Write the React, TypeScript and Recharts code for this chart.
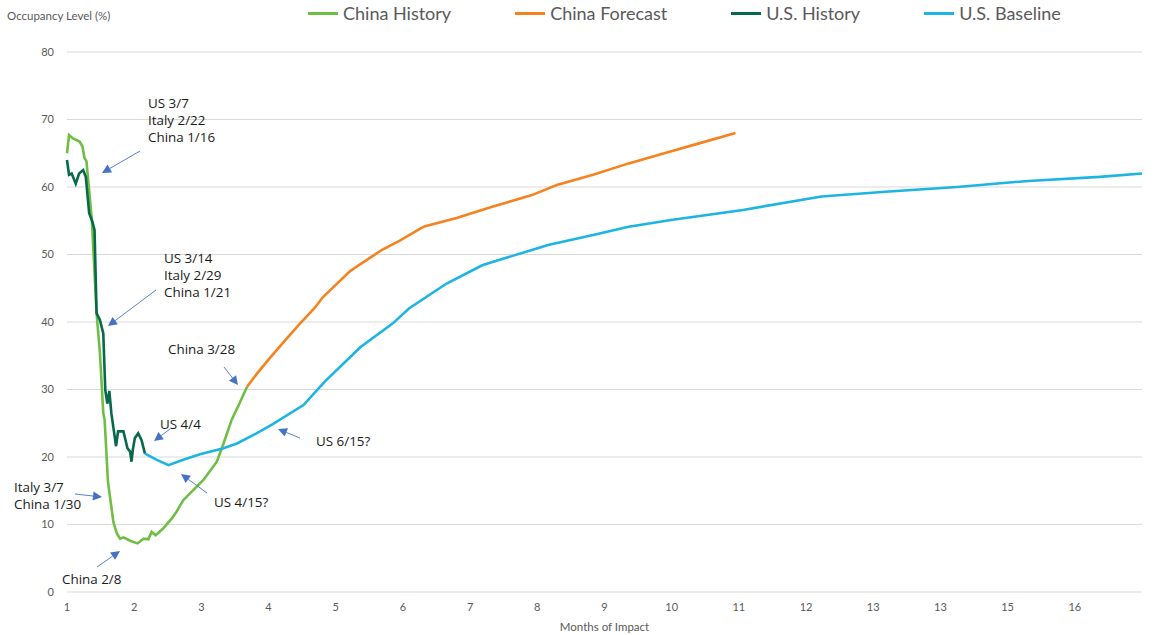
import { LineChart, Line, XAxis, YAxis, CartesianGrid } from "recharts";

// months since start / occupancy %
const chinaHistMonths = [1.0, 1.03, 1.09, 1.19, 1.23, 1.26, 1.29, 1.37, 1.44, 1.49, 1.54, 1.56, 1.61, 1.69, 1.74, 1.79, 1.84, 1.94, 2.05, 2.14, 2.21, 2.26, 2.32, 2.43, 2.56, 2.63, 2.73, 2.83, 3.03, 3.23, 3.33, 3.45, 3.57, 3.68];
const chinaHistValues = [65.0, 67.7, 67.2, 66.7, 66.0, 64.3, 63.8, 55.1, 41.3, 35.4, 26.5, 25.5, 16.3, 10.4, 8.7, 7.9, 8.1, 7.6, 7.2, 7.9, 7.8, 8.9, 8.4, 9.4, 10.9, 11.9, 13.6, 14.6, 16.6, 19.3, 22.0, 25.5, 28.0, 30.4];

const chinaFcstMonths = [3.68, 3.83, 4.04, 4.25, 4.47, 4.68, 4.81, 5.0, 5.21, 5.34, 5.69, 5.96, 6.27, 6.33, 6.8, 7.34, 7.92, 8.29, 8.83, 9.36, 9.89, 10.42, 10.95];
const chinaFcstValues = [30.4, 32.4, 34.9, 37.3, 39.8, 42.0, 43.7, 45.5, 47.5, 48.4, 50.7, 52.1, 53.9, 54.2, 55.4, 57.1, 58.8, 60.3, 61.8, 63.5, 65.0, 66.5, 68.0];

const usHistMonths = [1.0, 1.03, 1.07, 1.13, 1.18, 1.24, 1.28, 1.33, 1.38, 1.41, 1.44, 1.49, 1.54, 1.57, 1.6, 1.63, 1.66, 1.73, 1.76, 1.84, 1.9, 1.94, 1.96, 1.98, 2.01, 2.06, 2.11, 2.16];
const usHistValues = [64.0, 61.8, 62.0, 60.5, 62.0, 62.5, 61.5, 56.1, 54.8, 53.6, 41.3, 40.3, 38.3, 29.9, 27.9, 29.8, 26.5, 21.6, 23.8, 23.8, 21.3, 20.8, 19.3, 21.1, 22.8, 23.5, 22.5, 20.5];

const usBaseMonths = [2.16, 2.33, 2.51, 2.73, 2.98, 3.33, 3.53, 3.82, 4.05, 4.52, 4.84, 5.37, 5.85, 6.09, 6.65, 7.18, 7.5, 8.16, 8.83, 9.36, 9.99, 11.06, 12.23, 13.18, 14.25, 15.31, 16.37, 17.0];
const usBaseValues = [20.5, 19.6, 18.8, 19.6, 20.4, 21.3, 22.0, 23.5, 24.8, 27.7, 31.2, 36.3, 39.8, 42.0, 45.7, 48.4, 49.4, 51.4, 52.9, 54.1, 55.1, 56.6, 58.6, 59.3, 60.0, 60.9, 61.5, 62.0];

const xTicks = [1, 2, 3, 4, 5, 6, 7, 8, 9, 10, 11, 12, 13, 14, 15, 16];
const xTickLabels = ["1", "2", "3", "4", "5", "6", "7", "8", "9", "10", "11", "12", "13", "13", "15", "16"];
const yTicks = [0, 10, 20, 30, 40, 50, 60, 70, 80];

const zip = (ms: number[], vs: number[]) => ms.map((m, i) => ({ m, v: vs[i] }));

const series = [
  { name: "China History", color: "#6fbe44", data: zip(chinaHistMonths, chinaHistValues) },
  { name: "China Forecast", color: "#f5821f", data: zip(chinaFcstMonths, chinaFcstValues) },
  { name: "U.S. History", color: "#07694a", data: zip(usHistMonths, usHistValues) },
  { name: "U.S. Baseline", color: "#1cb4e2", data: zip(usBaseMonths, usBaseValues) },
];

// callout text + arrows (page pixels)
const notes: Array<{ x: number; y: number; lines: string[] }> = [
  { x: 148, y: 103, lines: ["US 3/7", "Italy 2/22", "China 1/16"] },
  { x: 164, y: 258, lines: ["US 3/14", "Italy 2/29", "China 1/21"] },
  { x: 168, y: 349, lines: ["China 3/28"] },
  { x: 160, y: 424, lines: ["US 4/4"] },
  { x: 14, y: 487, lines: ["Italy 3/7", "China 1/30"] },
  { x: 62, y: 579, lines: ["China 2/8"] },
  { x: 214, y: 502, lines: ["US 4/15?"] },
  { x: 316, y: 441, lines: ["US 6/15?"] },
];
const arrows = [
  [140, 151, 102, 173],
  [156, 290, 108, 326],
  [224, 367, 238, 385],
  [170, 429, 154, 441],
  [75, 494, 102, 497],
  [97, 567, 120, 551],
  [207, 493, 181, 474],
  [300, 438, 278, 429],
];

const axisFont = "Lato, 'Open Sans', sans-serif";

function Arrow({ a }: { a: number[] }) {
  const [x1, y1, x2, y2] = a;
  const ang = Math.atan2(y2 - y1, x2 - x1);
  const len = 9, w = 4.5;
  const bx = x2 - len * Math.cos(ang), by = y2 - len * Math.sin(ang);
  const px = -Math.sin(ang) * w, py = Math.cos(ang) * w;
  return (
    <g>
      <line x1={x1} y1={y1} x2={bx} y2={by} stroke="#4472c4" strokeWidth={0.9} />
      <polygon points={`${x2},${y2} ${bx + px},${by + py} ${bx - px},${by - py}`} fill="#4472c4" />
    </g>
  );
}

export default function App() {
  return (
    <div style={{ position: "absolute", left: 0, top: 0, width: 1168, height: 635, background: "#fff", overflow: "hidden" }}>
      <LineChart width={1168} height={635} margin={{ top: 52, right: 26, left: 0, bottom: 0 }}>
        <CartesianGrid vertical={false} stroke="#d9d9d9" strokeWidth={1} />
        <XAxis
          dataKey="m" type="number" domain={[1, 17]} ticks={xTicks}
          tickFormatter={(v) => xTickLabels[xTicks.indexOf(v)] ?? ""}
          axisLine={false} tickLine={false} height={43} tickMargin={5}
          tick={{ fill: "#595959", fontSize: 11, fontFamily: axisFont }}
          label={{ value: "Months of Impact", position: "insideBottom", offset: 4, fill: "#595959", fontSize: 11.5, fontFamily: axisFont }}
          allowDuplicatedCategory={false}
        />
        <YAxis
          type="number" domain={[0, 80]} ticks={yTicks} width={67}
          axisLine={false} tickLine={false} tickMargin={7}
          tick={{ fill: "#595959", fontSize: 11, fontFamily: axisFont }}
        />
        {series.map((s) => (
          <Line
            key={s.name} data={s.data} dataKey="v" name={s.name} type="linear"
            stroke={s.color} strokeWidth={2.6} dot={false} activeDot={false}
            isAnimationActive={false}
          />
        ))}
      </LineChart>

      <svg width={1168} height={635} style={{ position: "absolute", left: 0, top: 0, pointerEvents: "none" }}>
        <text x={7} y={15} dominantBaseline="central" fill="#595959" fontSize={11.5} fontFamily={axisFont}>
          Occupancy Level (%)
        </text>
        {notes.map((n, i) =>
          n.lines.map((t, j) => (
            <text key={`${i}-${j}`} x={n.x} y={n.y + j * 17} dominantBaseline="central"
              fill="#1a1a1a" fontSize={13.4} fontFamily="'Open Sans', sans-serif">
              {t}
            </text>
          ))
        )}
        {arrows.map((a, i) => <Arrow key={i} a={a} />)}
      </svg>

      <div style={{ position: "absolute", left: 308, top: 2, display: "flex", gap: 64, fontFamily: axisFont, fontSize: 18, color: "#595959" }}>
        {series.map((s) => (
          <div key={s.name} style={{ display: "flex", alignItems: "center", gap: 5, whiteSpace: "nowrap" }}>
            <span style={{ display: "inline-block", width: 30, height: 3, background: s.color }} />
            <span>{s.name}</span>
          </div>
        ))}
      </div>
    </div>
  );
}
